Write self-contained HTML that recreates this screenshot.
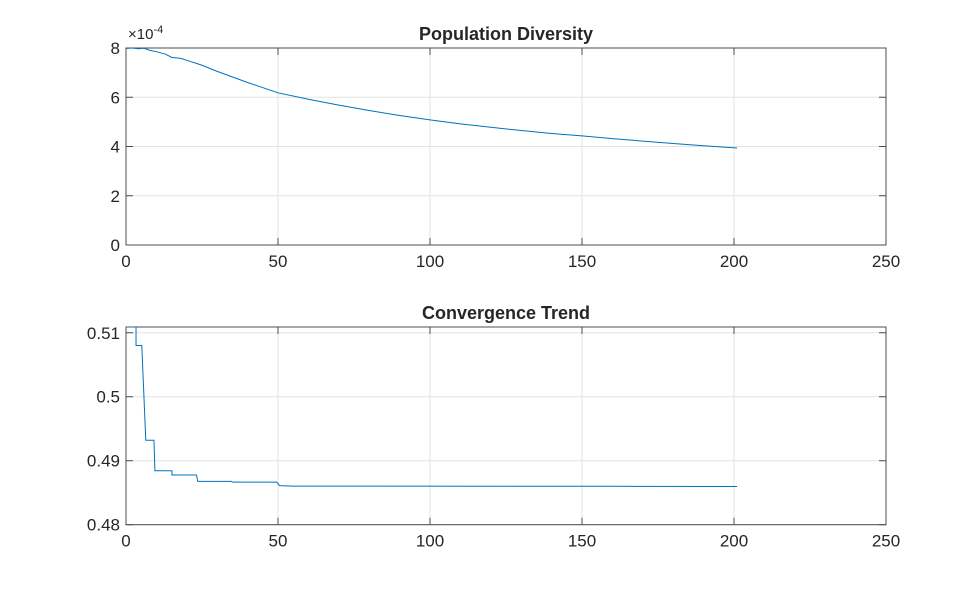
<!DOCTYPE html>
<html><head><meta charset="utf-8"><style>
body{margin:0;background:#fff;}
svg text{font-family:"Liberation Sans",Arial,sans-serif;fill:#262626;}
</style></head><body>
<svg id="c" width="980" height="590"></svg>
<script>
const xTicks=[0,50,100,150,200,250];
const divX=[0,2,4,6,8,10,13,15,18,20,25,30,40,50,60,70,80,90,100,110,120,130,140,150,160,170,180,190,201];
const divY=[7.98,8.0,7.97,7.99,7.9,7.85,7.75,7.62,7.58,7.5,7.3,7.05,6.6,6.18,5.92,5.68,5.46,5.26,5.08,4.92,4.78,4.65,4.53,4.43,4.32,4.22,4.12,4.03,3.94];
const divTicks=[0,2,4,6,8];
const convX=[0,3.3,3.3,5.2,6.5,9.2,9.5,15.1,15.1,23.2,23.6,34.7,35,49.6,50.5,55,160,201];
const convY=[0.5109,0.5109,0.508,0.508,0.4932,0.4932,0.48844,0.48844,0.48777,0.48777,0.48678,0.48678,0.48665,0.48665,0.4861,0.48603,0.48600,0.48597];
const convTicks=[0.48,0.49,0.50,0.51];
const convTickLabels=['0.48','0.49','0.5','0.51'];
const NS='http://www.w3.org/2000/svg',svg=document.getElementById('c');
function mk(t,a,p){const e=document.createElementNS(NS,t);for(const k in a)e.setAttribute(k,a[k]);(p||svg).appendChild(e);return e;}
function panel(name,top,bot,ymin,ymax,yt,ytl,xs,ys,title,exp){
 const L=126,R=886,sx=v=>L+(v-0)/250*(R-L),sy=v=>bot-(v-ymin)/(ymax-ymin)*(bot-top);
 const g=mk('g',{});
 const cp=mk('clipPath',{id:name+'-clip'},g);mk('rect',{x:L,y:top,width:R-L,height:bot-top},cp);
 xTicks.forEach(v=>{const l=mk('line',{x1:sx(v),x2:sx(v),y1:top,y2:bot,stroke:'#e3e3e3'},g);});
 yt.forEach(v=>{const l=mk('line',{x1:L,x2:R,y1:sy(v),y2:sy(v),stroke:'#e3e3e3'},g);});
 mk('rect',{x:L,y:top,width:R-L,height:bot-top,fill:'none',stroke:'#4d4d4d'},g);
 xTicks.forEach(v=>{mk('line',{x1:sx(v),x2:sx(v),y1:bot,y2:bot-7,stroke:'#4d4d4d'},g);mk('line',{x1:sx(v),x2:sx(v),y1:top,y2:top+7,stroke:'#4d4d4d'},g);
  const t=mk('text',{x:sx(v),y:bot+22,'text-anchor':'middle','font-size':17},g);t.textContent=v;});
 yt.forEach((v,i)=>{mk('line',{x1:L,x2:L+7,y1:sy(v),y2:sy(v),stroke:'#4d4d4d'},g);mk('line',{x1:R,x2:R-7,y1:sy(v),y2:sy(v),stroke:'#4d4d4d'},g);
  const t=mk('text',{x:L-6,y:sy(v)+6,'text-anchor':'end','font-size':17},g);t.textContent=ytl[i];});
 const p=mk('polyline',{points:xs.map((x,i)=>sx(x)+','+sy(ys[i])).join(' '),fill:'none',stroke:'#0072bd','stroke-width':1,'clip-path':'url(#'+name+'-clip)'},g);
 
 const tt=mk('text',{x:(L+R)/2,y:top-8,'text-anchor':'middle','font-size':18,'font-weight':'bold'},g);tt.textContent=title;
 
 if(exp){const e=mk('text',{x:128,y:top-9,'font-size':15},g);e.innerHTML='×10<tspan dy="-6" font-size="11">-4</tspan>';}
}
panel('diversity-panel',48,245,0,8,divTicks,divTicks.map(String),divX,divY,'Population Diversity',true);
panel('convergence-panel',327,524.7,0.48,0.5109,convTicks,convTickLabels,convX,convY,'Convergence Trend',false);
</script>
</body></html>
